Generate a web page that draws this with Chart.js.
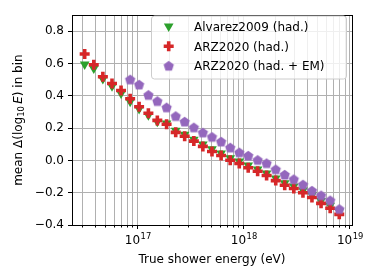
<!DOCTYPE html>
<html>
<head>
<meta charset="utf-8">
<script src="https://cdn.jsdelivr.net/npm/chart.js@4/dist/chart.umd.min.js"></script>
<style>
  html, body { margin: 0; padding: 0; background: #fff; }
  #wrap { width: 374px; height: 277px; }
</style>
</head>
<body>
<div id="wrap"><canvas id="chart" width="374" height="277"></canvas></div>
<script>
// bin centres (eV)
const energies = [3.16e16, 3.85e16, 4.69e16, 5.72e16, 6.96e16, 8.48e16, 1.03e17, 1.26e17,
    1.53e17, 1.87e17, 2.28e17, 2.77e17, 3.38e17, 4.11e17, 5.01e17, 6.11e17, 7.44e17,
    9.06e17, 1.10e18, 1.35e18, 1.64e18, 2.00e18, 2.43e18, 2.96e18, 3.61e18, 4.39e18,
    5.35e18, 6.52e18, 7.94e18];

const alvarezHad = [0.595, 0.570, 0.505, 0.460, 0.415, 0.365, 0.320, 0.280, 0.240, 0.230,
    0.185, 0.160, 0.130, 0.100, 0.070, 0.045, 0.015, -0.005, -0.030, -0.055, -0.080,
    -0.110, -0.140, -0.160, -0.185, -0.215, -0.250, -0.280, -0.315];

const arzHad = [0.660, 0.593, 0.519, 0.477, 0.433, 0.382, 0.333, 0.292, 0.248, 0.224,
    0.174, 0.150, 0.120, 0.087, 0.055, 0.031, 0.001, -0.019, -0.045, -0.067, -0.093,
    -0.125, -0.154, -0.174, -0.200, -0.230, -0.266, -0.296, -0.334];

// had. + EM starts at the 6th bin
const arzHadEm = [null, null, null, null, null, 0.503, 0.471, 0.407, 0.369, 0.330,
    0.276, 0.242, 0.206, 0.174, 0.147, 0.118, 0.081, 0.051, 0.031, 0.004, -0.016,
    -0.054, -0.087, -0.115, -0.148, -0.186, -0.215, -0.246, -0.300];

const seriesLabels = ['Alvarez2009 (had.)', 'ARZ2020 (had.)', 'ARZ2020 (had. + EM)'];
const seriesColors = ['#2ca02c', '#d62728', '#9467bd'];

const yTicks = [-0.4, -0.2, 0.0, 0.2, 0.4, 0.6, 0.8];
const xMajorTicks = [1e17, 1e18, 1e19];
const xMajorExponents = ['17', '18', '19'];
const xMinorSteps = [2, 3, 4, 5, 6, 7, 8, 9];

const xMin = 2.40e16, xMax = 1.047e19;
const yMin = -0.4, yMax = 0.9;

const FONT = '"DejaVu Sans", sans-serif';

// all x ticks in range (minor + major)
const xAllTicks = [];
[1e16, 1e17, 1e18].forEach(dec => {
    xMinorSteps.forEach(m => {
        if (m * dec >= xMin && m * dec <= xMax) xAllTicks.push(m * dec);
    });
});
xMajorTicks.forEach(v => xAllTicks.push(v));
xAllTicks.sort((a, b) => a - b);

function pts(values) {
    return energies.map((e, i) => ({ x: e, y: values[i] }));
}

function makePentagon(r, color) {
    const s = Math.ceil(r * 2) + 2;
    const c = document.createElement('canvas');
    c.width = s; c.height = s;
    const g = c.getContext('2d');
    g.fillStyle = color;
    g.beginPath();
    for (let k = 0; k < 5; k++) {
        const a = -Math.PI / 2 + k * 2 * Math.PI / 5;
        const px = s / 2 + r * Math.cos(a), py = s / 2 + r * Math.sin(a) + 0.6;
        if (k) g.lineTo(px, py); else g.moveTo(px, py);
    }
    g.closePath();
    g.fill();
    return c;
}
const pentagon = makePentagon(5.4, seriesColors[2]);

const align = p => Math.round(p - 0.5) + 0.5;

const decorPlugin = {
    id: 'decor',
    afterDatasetsDraw(chart) {
        const { ctx, chartArea: a, scales: { x, y } } = chart;
        ctx.save();

        // spines
        ctx.strokeStyle = '#000';
        ctx.lineWidth = 1;
        ctx.strokeRect(align(a.left), align(a.top), Math.round(a.right - a.left), Math.round(a.bottom - a.top));

        // tick marks
        ctx.beginPath();
        xAllTicks.forEach(v => {
            const px = align(x.getPixelForValue(v));
            const len = xMajorTicks.includes(v) ? 4 : 2.5;
            ctx.moveTo(px, a.bottom);
            ctx.lineTo(px, a.bottom + len);
        });
        yTicks.forEach(v => {
            const py = align(y.getPixelForValue(v));
            ctx.moveTo(a.left, py);
            ctx.lineTo(a.left - 4, py);
        });
        ctx.stroke();

        // x tick labels 10^n
        ctx.fillStyle = '#000';
        ctx.textBaseline = 'alphabetic';
        xMajorTicks.forEach((v, i) => {
            const px = x.getPixelForValue(v);
            ctx.font = '12px ' + FONT;
            const wb = ctx.measureText('10').width;
            ctx.font = '8.4px ' + FONT;
            const we = ctx.measureText(xMajorExponents[i]).width;
            const x0 = px - (wb + we) / 2;
            ctx.font = '12px ' + FONT;
            ctx.textAlign = 'left';
            ctx.fillText('10', x0, 244);
            ctx.font = '8.4px ' + FONT;
            ctx.fillText(xMajorExponents[i], x0 + wb + 0.5, 239.3);
        });

        // x title
        ctx.font = '12px ' + FONT;
        ctx.textAlign = 'center';
        ctx.fillText('True shower energy (eV)', (a.left + a.right) / 2, 263);

        // y title: mean Δ(log10 E) in bin
        const parts = [
            { t: 'mean Δ(log', f: '12px ' + FONT, dy: 0 },
            { t: '10', f: '8.4px ' + FONT, dy: 2.8 },
            { t: '\u2009', f: '12px ' + FONT, dy: 0 },
            { t: 'E', f: 'italic 12px ' + FONT, dy: 0 },
            { t: ') in bin', f: '12px ' + FONT, dy: 0 }
        ];
        let total = 0;
        parts.forEach(p => { ctx.font = p.f; p.w = ctx.measureText(p.t).width; total += p.w; });
        ctx.save();
        ctx.translate(21.5, (a.top + a.bottom) / 2);
        ctx.rotate(-Math.PI / 2);
        ctx.textAlign = 'left';
        let cx = -total / 2;
        parts.forEach(p => {
            ctx.font = p.f;
            ctx.fillText(p.t, cx, p.dy);
            cx += p.w;
        });
        ctx.restore();

        // legend
        const lx = 151, ly = 15.5, lw = 195, lh = 63;
        ctx.beginPath();
        ctx.roundRect(lx + 0.5, ly + 0.5, lw, lh, 3);
        ctx.fillStyle = 'rgba(255,255,255,0.8)';
        ctx.fill();
        ctx.strokeStyle = '#cccccc';
        ctx.stroke();

        const mx = 168.7;
        const rows = [26.3, 46.2, 65.6];
        // triangle down
        ctx.fillStyle = seriesColors[0];
        ctx.beginPath();
        const r = 5.6;
        ctx.moveTo(mx, rows[0] + r);
        ctx.lineTo(mx - r * Math.sin(Math.PI / 3), rows[0] - r / 2);
        ctx.lineTo(mx + r * Math.sin(Math.PI / 3), rows[0] - r / 2);
        ctx.closePath();
        ctx.fill();
        // plus
        ctx.strokeStyle = seriesColors[1];
        ctx.lineWidth = 3.6;
        ctx.beginPath();
        ctx.moveTo(mx - 5, rows[1]); ctx.lineTo(mx + 5, rows[1]);
        ctx.moveTo(mx, rows[1] - 5); ctx.lineTo(mx, rows[1] + 5);
        ctx.stroke();
        // pentagon
        ctx.drawImage(pentagon, mx - pentagon.width / 2, rows[2] - pentagon.height / 2);

        ctx.fillStyle = '#000';
        ctx.font = '12px ' + FONT;
        ctx.textAlign = 'left';
        seriesLabels.forEach((s, i) => ctx.fillText(s, 194, rows[i] + 4.6));

        ctx.restore();
    }
};

new Chart(document.getElementById('chart'), {
    type: 'scatter',
    data: {
        datasets: [{
            label: seriesLabels[0],
            data: pts(alvarezHad),
            pointStyle: 'triangle',
            rotation: 180,
            radius: 5.6,
            backgroundColor: seriesColors[0],
            borderWidth: 0,
            order: 3
        }, {
            label: seriesLabels[1],
            data: pts(arzHad),
            pointStyle: 'cross',
            radius: 5,
            borderColor: seriesColors[1],
            backgroundColor: seriesColors[1],
            borderWidth: 3.6,
            order: 2
        }, {
            label: seriesLabels[2],
            data: pts(arzHadEm),
            pointStyle: pentagon,
            radius: 5.4,
            backgroundColor: seriesColors[2],
            borderWidth: 0,
            order: 1
        }]
    },
    options: {
        responsive: false,
        animation: false,
        events: [],
        layout: { padding: { left: 0, right: 22, top: 9, bottom: 0 } },
        plugins: {
            legend: { display: false },
            tooltip: { enabled: false }
        },
        scales: {
            x: {
                type: 'logarithmic',
                min: xMin,
                max: xMax,
                afterBuildTicks: s => { s.ticks = xAllTicks.map(v => ({ value: v })); },
                afterFit: s => { s.height = 52; },
                ticks: { display: false },
                grid: { color: '#b0b0b0', lineWidth: 1, drawTicks: false },
                border: { display: false }
            },
            y: {
                type: 'linear',
                min: yMin,
                max: yMax,
                afterBuildTicks: s => { s.ticks = yTicks.map(v => ({ value: v })); },
                afterFit: s => { s.width = 72; },
                ticks: {
                    color: '#000',
                    font: { family: FONT, size: 12 },
                    padding: 8,
                    callback: v => v.toFixed(1).replace('-', '\u2212')
                },
                grid: { color: '#b0b0b0', lineWidth: 1, drawTicks: false },
                border: { display: false }
            }
        }
    },
    plugins: [decorPlugin]
});
</script>
</body>
</html>
